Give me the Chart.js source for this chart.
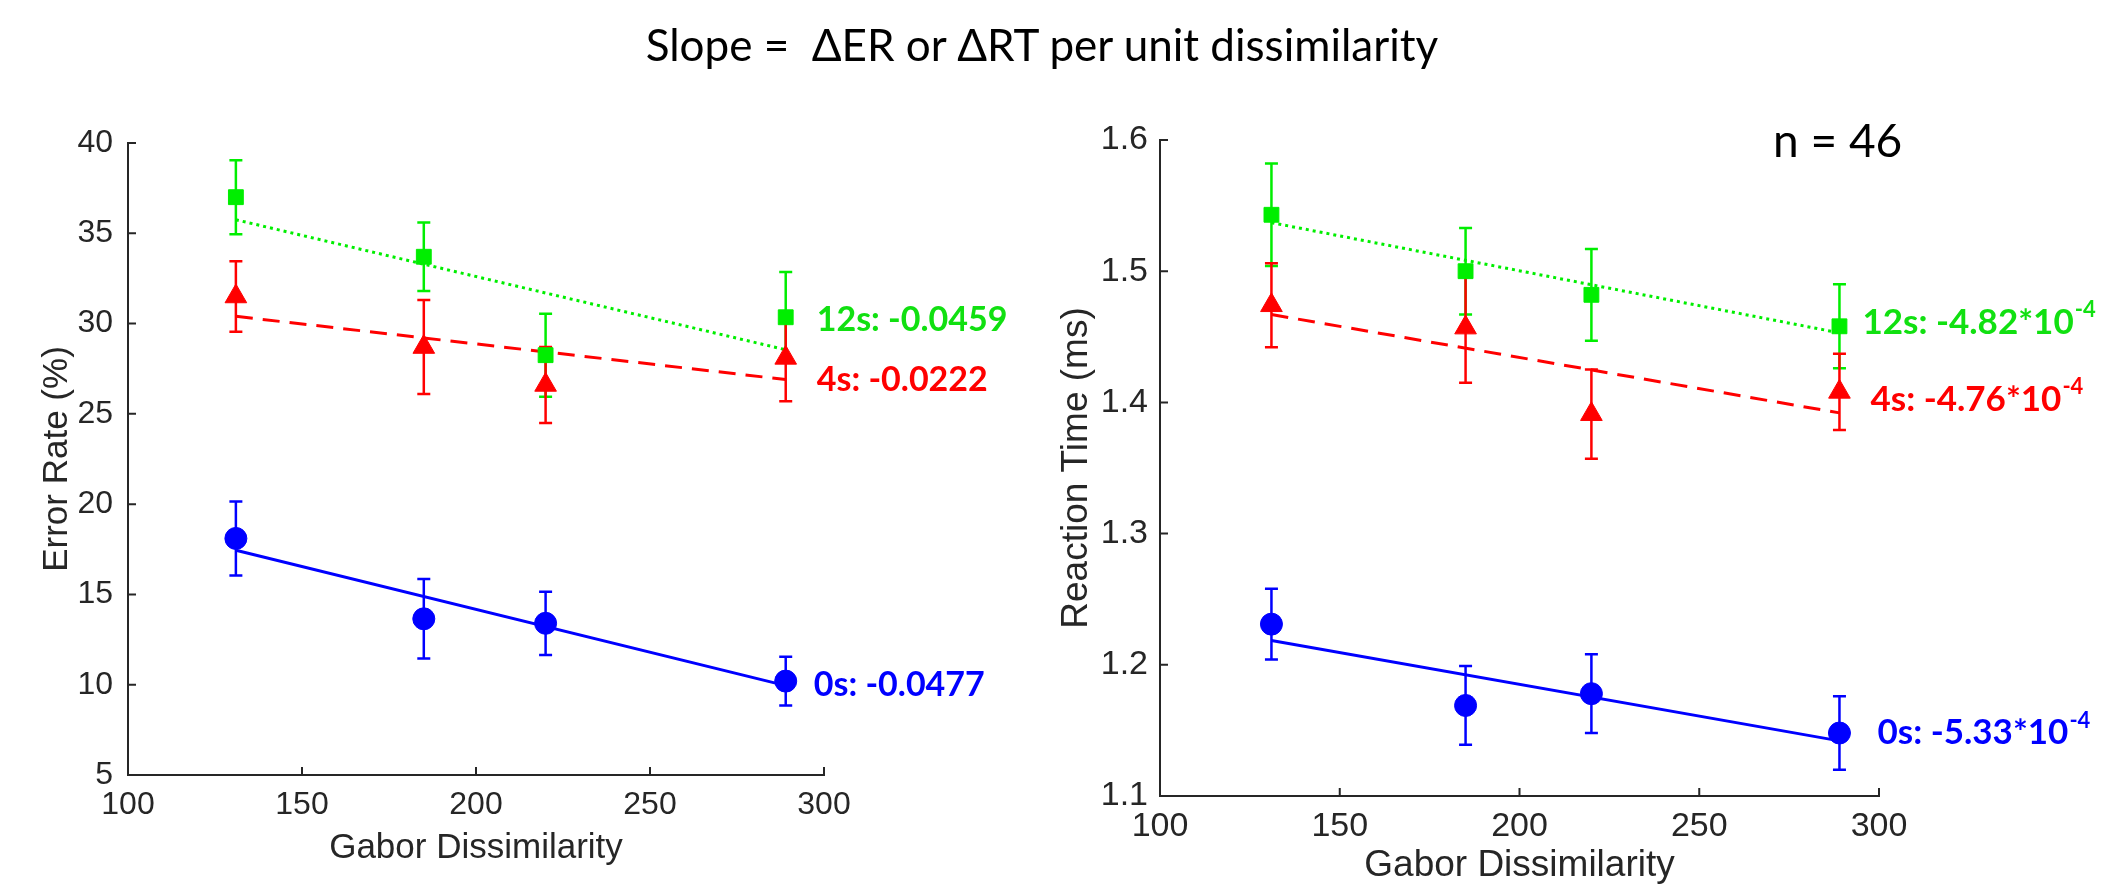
<!DOCTYPE html>
<html><head><meta charset="utf-8">
<script src="https://cdn.jsdelivr.net/npm/chart.js@4.4.0/dist/chart.umd.min.js"></script>
<style>
html,body{margin:0;padding:0;background:#fff;width:2105px;height:884px;overflow:hidden;position:relative;}
#title{position:absolute;left:0;width:2084px;top:20px;line-height:48px;text-align:center;font-family:Lato,'Noto Sans',sans-serif;font-size:44px;color:#000;white-space:pre;}
#nlabel{position:absolute;left:1773px;top:116px;line-height:48px;font-family:Lato,'Noto Sans',sans-serif;font-size:46px;color:#000;white-space:pre;}
#leftBox{position:absolute;left:0;top:0;width:1040px;height:884px;}
#rightBox{position:absolute;left:1040px;top:0;width:1065px;height:884px;}
</style></head>
<body>
<div id="leftBox"><canvas id="cL" width="1040" height="884"></canvas></div>
<div id="rightBox"><canvas id="cR" width="1065" height="884"></canvas></div>
<div id="title">Slope =  ΔER or ΔRT per unit dissimilarity</div>
<div id="nlabel">n = 46</div>
<script>
// ---------- data ----------
const dissimilarity = [131, 185, 220, 289];
const fitX = [131, 289];

// Error rate (%)
const er0s  = [18.1, 13.65, 13.4, 10.2];
const er0sErr = [2.05, 2.2, 1.75, 1.35];
const er4s  = [31.5, 28.7, 26.6, 28.1];
const er4sErr = [1.95, 2.6, 2.1, 2.4];
const er12s = [37.0, 33.7, 28.25, 30.35];
const er12sErr = [2.05, 1.9, 2.3, 2.5];
const erFit0s  = [17.45, 9.95];
const erFit4s  = [30.4, 26.9];
const erFit12s = [35.75, 28.55];

// Reaction time (ms)
const rt0s  = [1.231, 1.169, 1.178, 1.148];
const rt0sErr = [0.027, 0.030, 0.030, 0.028];
const rt4s  = [1.474, 1.457, 1.391, 1.408];
const rt4sErr = [0.032, 0.042, 0.034, 0.029];
const rt12s = [1.543, 1.500, 1.482, 1.458];
const rt12sErr = [0.039, 0.033, 0.035, 0.032];
const rtFit0s  = [1.2185, 1.142];
const rtFit4s  = [1.467, 1.392];
const rtFit12s = [1.537, 1.453];

// slopes (labels)
const erSlopeLabels = ['0s: -0.0477', '4s: -0.0222', '12s: -0.0459'];
const rtSlopeLabels = ['0s: -5.33*10', '4s: -4.76*10', '12s: -4.82*10'];
const rtSlopeExp = ['-4', '-4', '-4'];

// ticks
const xTicks = [100, 150, 200, 250, 300];
const erTicks = [5, 10, 15, 20, 25, 30, 35, 40];
const rtTicks = [1.1, 1.2, 1.3, 1.4, 1.5, 1.6];

// ---------- styling ----------
const BLUE = '#0000ff', RED = '#ff0000', GREEN = '#00ee00', GREEN_TXT = '#11e011';
const AX = '#262626';
const SANS = "'Liberation Sans', Arial, sans-serif";

const pts = (xs, ys) => xs.map((x, i) => ({x, y: ys[i]}));

const errorBars = {
  id: 'errorBars',
  beforeDatasetsDraw(chart, args, opts) {
    const {ctx} = chart; const x = chart.scales.x, y = chart.scales.y;
    opts.series.forEach(s => {
      ctx.save(); ctx.strokeStyle = s.color; ctx.lineWidth = 2.5; ctx.lineCap = 'butt';
      s.x.forEach((xv, i) => {
        const px = x.getPixelForValue(xv);
        const t = y.getPixelForValue(s.y[i] + s.e[i]);
        const b = y.getPixelForValue(s.y[i] - s.e[i]);
        ctx.beginPath();
        ctx.moveTo(px, t); ctx.lineTo(px, b);
        ctx.moveTo(px - 6.5, t); ctx.lineTo(px + 6.5, t);
        ctx.moveTo(px - 6.5, b); ctx.lineTo(px + 6.5, b);
        ctx.stroke();
      });
      ctx.restore();
    });
  }
};

const inwardTicks = {
  id: 'inwardTicks',
  afterDraw(chart) {
    const {ctx, chartArea: a} = chart; const x = chart.scales.x, y = chart.scales.y;
    ctx.save(); ctx.strokeStyle = AX; ctx.lineWidth = 2;
    ctx.beginPath();
    x.ticks.forEach(t => { const p = x.getPixelForValue(t.value); ctx.moveTo(p, a.bottom); ctx.lineTo(p, a.bottom - 8); });
    y.ticks.forEach(t => { const p = y.getPixelForValue(t.value); ctx.moveTo(a.left, p); ctx.lineTo(a.left + 8, p); });
    ctx.stroke(); ctx.restore();
  }
};

const slopeLabels = {
  id: 'slopeLabels',
  afterDraw(chart, args, opts) {
    const {ctx} = chart; const x = chart.scales.x, y = chart.scales.y;
    ctx.save(); ctx.textBaseline = 'middle'; ctx.textAlign = 'left';
    opts.items.forEach(it => {
      const px = x.getPixelForValue(opts.anchorX) + it.dx;
      const py = y.getPixelForValue(it.yv);
      ctx.fillStyle = it.color;
      ctx.font = 'bold ' + opts.size + 'px Lato, "Noto Sans", sans-serif';
      ctx.fillText(it.text, px, py);
      if (it.exp) {
        const w = ctx.measureText(it.text).width;
        ctx.font = 'bold ' + Math.round(opts.size * 0.62) + 'px Lato, "Noto Sans", sans-serif';
        ctx.fillText(it.exp, px + w + 1, py - opts.size * 0.36);
      }
    });
    ctx.restore();
  }
};

function makeChart(id, cfg) {
  const markerSets = [
    {data: pts(dissimilarity, cfg.s0), pointStyle: 'circle', pointRadius: 11, backgroundColor: BLUE, borderColor: BLUE},
    {data: pts(dissimilarity, cfg.s4), pointStyle: 'triangle', pointRadius: 12.5, backgroundColor: RED, borderColor: RED},
    {data: pts(dissimilarity, cfg.s12), pointStyle: 'rect', pointRadius: 10.5, backgroundColor: GREEN, borderColor: GREEN},
  ].map(d => Object.assign(d, {showLine: false, borderWidth: 1, pointHoverRadius: d.pointRadius}));
  const fitSets = [
    {data: pts(fitX, cfg.f0), borderColor: BLUE, borderDash: []},
    {data: pts(fitX, cfg.f4), borderColor: RED, borderDash: [17, 10]},
    {data: pts(fitX, cfg.f12), borderColor: GREEN, borderDash: [3, 4]},
  ].map(d => Object.assign(d, {showLine: true, pointRadius: 0, borderWidth: 3, fill: false}));

  return new Chart(document.getElementById(id), {
    type: 'scatter',
    data: {datasets: markerSets.concat(fitSets)},
    options: {
      responsive: false, animation: false, devicePixelRatio: 1,
      layout: {padding: cfg.padding},
      plugins: {
        legend: {display: false}, tooltip: {enabled: false},
        errorBars: {series: [
          {x: dissimilarity, y: cfg.s12, e: cfg.e12, color: GREEN},
          {x: dissimilarity, y: cfg.s4, e: cfg.e4, color: RED},
          {x: dissimilarity, y: cfg.s0, e: cfg.e0, color: BLUE},
        ]},
        slopeLabels: {anchorX: 289, size: cfg.labelSize, items: cfg.labels},
      },
      scales: {
        x: {
          type: 'linear', min: 100, max: 300,
          afterBuildTicks: s => { s.ticks = xTicks.map(v => ({value: v})); },
          afterFit: s => { s.height = cfg.xH; },
          grid: {display: false, drawTicks: false},
          border: {display: true, color: AX, width: 2},
          ticks: {color: AX, font: {family: SANS, size: cfg.tickSize}, padding: cfg.xTickPad, maxRotation: 0, autoSkip: false},
          title: {display: true, text: 'Gabor Dissimilarity', color: AX, font: {family: SANS, size: cfg.titleSize, lineHeight: cfg.xTitleLH}, padding: {top: 0, bottom: cfg.xTitlePad}},
        },
        y: {
          type: 'linear', min: cfg.yMin, max: cfg.yMax,
          afterBuildTicks: s => { s.ticks = cfg.yTicks.map(v => ({value: v})); },
          afterFit: s => { s.width = cfg.yW; },
          grid: {display: false, drawTicks: false},
          border: {display: true, color: AX, width: 2},
          ticks: {color: AX, font: {family: SANS, size: cfg.tickSize}, padding: cfg.yTickPad, autoSkip: false,
                  callback: v => cfg.fmt(v)},
          title: {display: true, text: cfg.yTitle, color: AX, font: {family: SANS, size: cfg.titleSize, lineHeight: 1.2}, padding: {top: cfg.yTitlePad, bottom: 0}},
        }
      }
    },
    plugins: [errorBars, inwardTicks, slopeLabels]
  });
}

makeChart('cL', {
  s0: er0s, s4: er4s, s12: er12s, e0: er0sErr, e4: er4sErr, e12: er12sErr,
  f0: erFit0s, f4: erFit4s, f12: erFit12s,
  yMin: 5, yMax: 40, yTicks: erTicks, fmt: v => String(v), yTitle: 'Error Rate (%)',
  padding: {left: 28, top: 143, right: 216, bottom: 0}, xH: 109, yW: 100,
  tickSize: 32, titleSize: 35, xTitleLH: 1.2, xTitlePad: 15, yTitlePad: 8, yTickPad: 15, xTickPad: 11,
  labelSize: 34,
  labels: [
    {text: erSlopeLabels[0], color: BLUE, yv: 10.0, dx: 28},
    {text: erSlopeLabels[1], color: RED, yv: 26.88, dx: 31},
    {text: erSlopeLabels[2], color: GREEN_TXT, yv: 30.2, dx: 31},
  ]
});

makeChart('cR', {
  s0: rt0s, s4: rt4s, s12: rt12s, e0: rt0sErr, e4: rt4sErr, e12: rt12sErr,
  f0: rtFit0s, f4: rtFit4s, f12: rtFit12s,
  yMin: 1.1, yMax: 1.6, yTicks: rtTicks, fmt: v => v.toFixed(1), yTitle: 'Reaction Time (ms)',
  padding: {left: 10, top: 140, right: 226, bottom: 0}, xH: 88, yW: 110,
  tickSize: 34, titleSize: 37, xTitleLH: 1.0, xTitlePad: 0, yTitlePad: 5, yTickPad: 12, xTickPad: 10,
  labelSize: 35,
  labels: [
    {text: rtSlopeLabels[0], exp: rtSlopeExp[0], color: BLUE, yv: 1.148, dx: 38},
    {text: rtSlopeLabels[1], exp: rtSlopeExp[1], color: RED, yv: 1.402, dx: 31},
    {text: rtSlopeLabels[2], exp: rtSlopeExp[2], color: GREEN_TXT, yv: 1.461, dx: 23},
  ]
});
</script>
</body></html>
